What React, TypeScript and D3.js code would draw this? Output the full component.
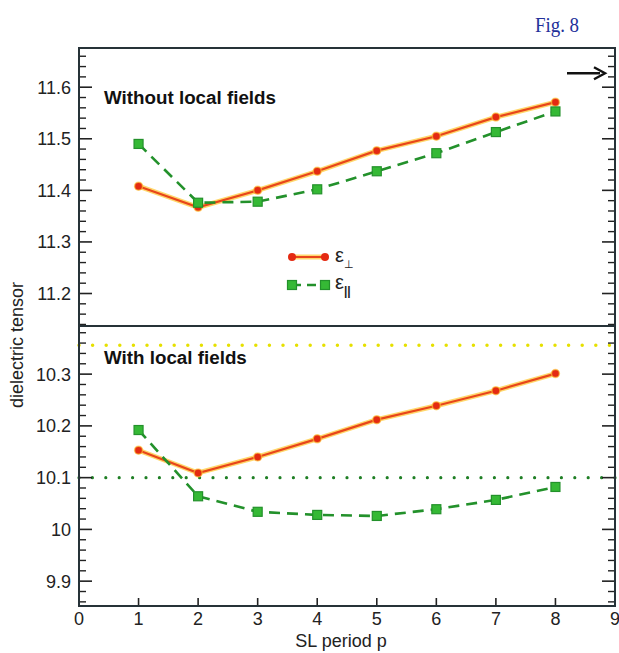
import React from "react";
import * as d3 from "d3";

const periods = [1, 2, 3, 4, 5, 6, 7, 8];
const noLfPerp = [11.408, 11.367, 11.4, 11.437, 11.477, 11.505, 11.542, 11.571];
const noLfPar = [11.49, 11.376, 11.378, 11.402, 11.437, 11.472, 11.513, 11.553];
const lfPerp = [10.153, 10.109, 10.14, 10.175, 10.212, 10.239, 10.268, 10.301];
const lfPar = [10.192, 10.064, 10.034, 10.028, 10.026, 10.039, 10.057, 10.082];
const xTicks = [0, 1, 2, 3, 4, 5, 6, 7, 8, 9];
const topTicks = [11.2, 11.3, 11.4, 11.5, 11.6];
const botTicks = [9.9, 10, 10.1, 10.2, 10.3];
const yellowRef = 10.356;
const greenRef = 10.1;
const arrowVal = 11.627;

const W = 619, H = 653;
const L = 79, R = 615, T = 48, MID = 326, B = 606;

const x = d3.scaleLinear().domain([0, 9]).range([L, R]);
const yTop = d3.scaleLinear().domain([11.137, 11.676]).range([MID, T]);
const yBot = d3.scaleLinear().domain([9.852, 10.393]).range([B, MID]);

const FONT = "'Liberation Sans', Arial, Helvetica, sans-serif";
const ORANGE = "#e8461a";
const HALO = "#ffc93a";
const GREEN = "#23912b";
const GFILL = "#35b935";

function minorTicks(scale: d3.ScaleLinear<number, number>) {
  const [a, b] = scale.domain();
  const out: number[] = [];
  for (let k = Math.ceil(a * 50); k <= Math.floor(b * 50); k++) {
    if (k % 5 !== 0) out.push(k / 50);
  }
  return out;
}

function Panel({ y, perp, par, majors }: { y: d3.ScaleLinear<number, number>; perp: number[]; par: number[]; majors: number[] }) {
  const line = d3.line<number>().x((_, i) => x(periods[i])).y((v) => y(v));
  const minors = minorTicks(y);
  return (
    <g>
      {majors.map((t) => (
        <g key={"M" + t}>
          <line x1={L} x2={L + 13} y1={y(t)} y2={y(t)} stroke="#222" strokeWidth={1.6} />
          <line x1={R} x2={R - 13} y1={y(t)} y2={y(t)} stroke="#222" strokeWidth={1.6} />
          <text x={L - 8} y={y(t)} dy="0.36em" textAnchor="end" fontSize={18} fontFamily={FONT} fill="#222">
            {d3.format("~g")(t)}
          </text>
        </g>
      ))}
      {minors.map((t) => (
        <g key={"m" + t}>
          <line x1={L} x2={L + 7} y1={y(t)} y2={y(t)} stroke="#222" strokeWidth={1.4} />
          <line x1={R} x2={R - 7} y1={y(t)} y2={y(t)} stroke="#222" strokeWidth={1.4} />
        </g>
      ))}
      <path d={line(perp) || ""} fill="none" stroke={HALO} strokeWidth={5} strokeOpacity={0.75} />
      <path d={line(perp) || ""} fill="none" stroke={ORANGE} strokeWidth={2.2} />
      {perp.map((v, i) => (
        <circle key={"c" + i} cx={x(periods[i])} cy={y(v)} r={4} fill="#e42a12" stroke={HALO} strokeOpacity={0.6} strokeWidth={1.5} />
      ))}
      <path d={line(par) || ""} fill="none" stroke={GREEN} strokeWidth={2.6} strokeDasharray="11,7" />
      {par.map((v, i) => (
        <rect key={"s" + i} x={x(periods[i]) - 4.5} y={y(v) - 4.5} width={9} height={9} fill={GFILL} stroke={GREEN} strokeWidth={1.2} />
      ))}
    </g>
  );
}

export default function App() {
  return (
    <svg width={W} height={H} style={{ position: "absolute", left: 0, top: 0, background: "#fff" }}>
      <rect x={0} y={0} width={W} height={H} fill="#fff" />
      <text x={557} y={32} textAnchor="middle" fontSize={22} fontFamily="'Liberation Serif', 'DejaVu Serif', serif" fill="#23309a" transform="translate(557,0) scale(0.86,1) translate(-557,0)">
        Fig. 8
      </text>

      {/* reference dotted lines */}
      <line x1={L} x2={R} y1={yBot(yellowRef)} y2={yBot(yellowRef)} stroke="#e6e000" strokeWidth={3.5} strokeLinecap="round" strokeDasharray="0,13.6" />
      <line x1={L} x2={R} y1={yBot(greenRef)} y2={yBot(greenRef)} stroke="#1f7f25" strokeWidth={3.2} strokeLinecap="round" strokeDasharray="0,13.4" />

      <Panel y={yTop} perp={noLfPerp} par={noLfPar} majors={topTicks} />
      <Panel y={yBot} perp={lfPerp} par={lfPar} majors={botTicks} />

      {/* x ticks */}
      {xTicks.map((t) => (
        <g key={"x" + t}>
          {t > 0 && t < 9 && <line x1={x(t)} x2={x(t)} y1={B} y2={B - 8} stroke="#222" strokeWidth={1.6} />}
          <text x={x(t)} y={625} textAnchor="middle" fontSize={18} fontFamily={FONT} fill="#222">
            {t}
          </text>
        </g>
      ))}

      {/* frame */}
      <rect x={L} y={T} width={R - L} height={B - T} fill="none" stroke="#263238" strokeWidth={2} />
      <line x1={L} x2={R} y1={MID} y2={MID} stroke="#263238" strokeWidth={2} />

      {/* arrow */}
      <line x1={567} x2={600} y1={yTop(arrowVal)} y2={yTop(arrowVal)} stroke="#111" strokeWidth={2.4} />
      <path d={`M${594},${yTop(arrowVal) - 6} L${605},${yTop(arrowVal)} L${594},${yTop(arrowVal) + 6}`} fill="none" stroke="#111" strokeWidth={2.4} />

      <text x={104} y={104} fontSize={18.8} fontWeight="bold" fontFamily={FONT} fill="#111">Without local fields</text>
      <text x={104} y={364} fontSize={18.8} fontWeight="bold" fontFamily={FONT} fill="#111">With local fields</text>

      {/* legend */}
      <line x1={292} x2={325} y1={257} y2={257} stroke={HALO} strokeWidth={5} strokeOpacity={0.75} />
      <line x1={292} x2={325} y1={257} y2={257} stroke={ORANGE} strokeWidth={2.2} />
      <circle cx={292} cy={257} r={4} fill="#e42a12" />
      <circle cx={325} cy={257} r={4} fill="#e42a12" />
      <text x={335} y={262} fontSize={20} fontFamily={FONT} fill="#222">ε<tspan fontSize={11} dy={6}>⊥</tspan></text>
      <line x1={292} x2={325} y1={285} y2={285} stroke={GREEN} strokeWidth={2.6} strokeDasharray="9,6" />
      <rect x={287.5} y={280.5} width={9} height={9} fill={GFILL} stroke={GREEN} strokeWidth={1.2} />
      <rect x={320.5} y={280.5} width={9} height={9} fill={GFILL} stroke={GREEN} strokeWidth={1.2} />
      <text x={335} y={289} fontSize={20} fontFamily={FONT} fill="#222">ε<tspan fontSize={12} dy={6} fontWeight="bold">||</tspan></text>

      <text x={341} y={647} textAnchor="middle" fontSize={18} fontFamily={FONT} fill="#222">SL period p</text>
      <text transform="translate(23,345) rotate(-90)" textAnchor="middle" fontSize={18} fontFamily={FONT} fill="#222">dielectric tensor</text>
    </svg>
  );
}
